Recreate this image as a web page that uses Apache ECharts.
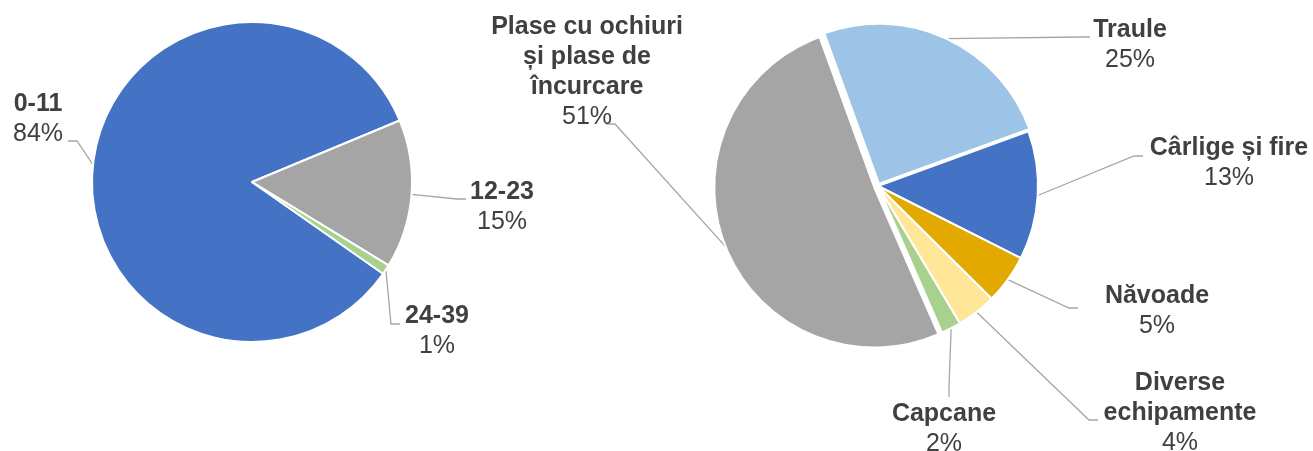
<!DOCTYPE html>
<html>
<head>
<meta charset="utf-8">
<script src="https://cdn.jsdelivr.net/npm/echarts@6/dist/echarts.min.js"></script>
<style>
  html, body { margin: 0; padding: 0; background: #fff; }
  #chart { width: 1313px; height: 451px; }
</style>
</head>
<body>
<div id="chart"></div>
<script>
var ageGroups = ['0-11', '12-23', '24-39'];
var ageShares = [84, 15, 1];

var gearTypes = ['Traule', 'Cârlige și fire', 'Năvoade', 'Diverse\nechipamente', 'Capcane', 'Plase cu ochiuri\nși plase de\nîncurcare'];
var gearShares = [25, 13, 5, 4, 2, 51];

var ageColors = ['#4472C4', '#A5A5A5', '#A9D18E'];
var gearColors = ['#9DC3E6', '#4472C4', '#E2AA00', '#FFE699', '#A9D18E', '#A5A5A5'];

// label centres and leader-line ends (x, y, side: 1 label right, -1 label left, 0 below)
var ageLabelPos = [[38, 119], [502, 207], [437, 331]];
var ageLineEnd = [[68, 141, -1], [466, 199, 1], [400, 324, 1]];
var gearLabelPos = [[1130, 45], [1229, 163], [1157, 311], [1180, 413], [944, 429], [587, 72]];
var gearLineEnd = [[1090, 37, 1], [1143, 156, 1], [1078, 308, 1], [1098, 420, 1], [949, 397, 0], [606, 124, -1]];

// how far each slice of the right pie is pulled out (px)
var gearExplode = [2.5, 0, 0, 0, 0, 4];

var font = '"Liberation Sans", Arial, sans-serif';
var textColor = '#404040';

var gearCenter = [878, 186];
var gearRadius = 160;
var gearStart = 110;

function makeData(names, values, colors, visible) {
  return names.map(function (n, i) {
    if (visible(i)) {
      return { name: n, value: values[i], itemStyle: { color: colors[i] } };
    }
    return {
      name: n, value: values[i],
      itemStyle: { color: 'rgba(0,0,0,0)', borderWidth: 0 },
      label: { show: false }, labelLine: { show: false }
    };
  });
}

function layoutFor(posArr, endArr) {
  return function (p) {
    var pos = posArr[p.dataIndex];
    var e = endArr[p.dataIndex];
    var start = p.labelLinePoints ? p.labelLinePoints[0] : [e[0], e[1]];
    var elbow = e[2] === 0 ? [e[0], e[1] - 10] : [e[0] - e[2] * 9, e[1]];
    return {
      x: pos[0], y: pos[1], align: 'center', verticalAlign: 'middle',
      labelLinePoints: [start, elbow, [e[0], e[1]]]
    };
  };
}

var labelStyle = {
  show: true,
  formatter: '{n|{b}}\n{p|{d}%}',
  align: 'center',
  rich: {
    n: { fontFamily: font, fontSize: 25, fontWeight: 'bold', lineHeight: 30, color: textColor, align: 'center' },
    p: { fontFamily: font, fontSize: 25, lineHeight: 30, color: textColor, align: 'center' }
  }
};
var lineStyle = {
  show: true,
  length: 20,
  length2: 9,
  lineStyle: { color: '#A6A6A6', width: 1.3 }
};

function pieBase(center, radius, startAngle) {
  return {
    type: 'pie',
    center: center,
    radius: radius,
    startAngle: startAngle,
    percentPrecision: 0,
    avoidLabelOverlap: false,
    itemStyle: { borderColor: '#fff', borderWidth: 2 },
    label: labelStyle,
    labelLine: lineStyle,
    emphasis: { disabled: true }
  };
}

var series = [];

var agePie = pieBase([252, 182], 160, -35);
agePie.data = makeData(ageGroups, ageShares, ageColors, function () { return true; });
agePie.labelLayout = layoutFor(ageLabelPos, ageLineEnd);
series.push(agePie);

// right pie: slices that stay in place
var gearPie = pieBase(gearCenter, gearRadius, gearStart);
gearPie.data = makeData(gearTypes, gearShares, gearColors, function (i) { return !gearExplode[i]; });
gearPie.labelLayout = layoutFor(gearLabelPos, gearLineEnd);
series.push(gearPie);

// pulled-out slices: same pie, centre moved along the slice's middle angle
var total = gearShares.reduce(function (a, b) { return a + b; }, 0);
var before = 0;
gearShares.forEach(function (v, idx) {
  var mid = (gearStart - (before + v / 2) / total * 360) * Math.PI / 180;
  before += v;
  if (!gearExplode[idx]) return;
  var c = [gearCenter[0] + gearExplode[idx] * Math.cos(mid), gearCenter[1] - gearExplode[idx] * Math.sin(mid)];
  var s = pieBase(c, gearRadius, gearStart);
  s.data = makeData(gearTypes, gearShares, gearColors, function (i) { return i === idx; });
  s.labelLayout = layoutFor(gearLabelPos, gearLineEnd);
  series.push(s);
});

var myChart = echarts.init(document.getElementById('chart'));
myChart.setOption({
  animation: false,
  series: series
});
</script>
</body>
</html>
